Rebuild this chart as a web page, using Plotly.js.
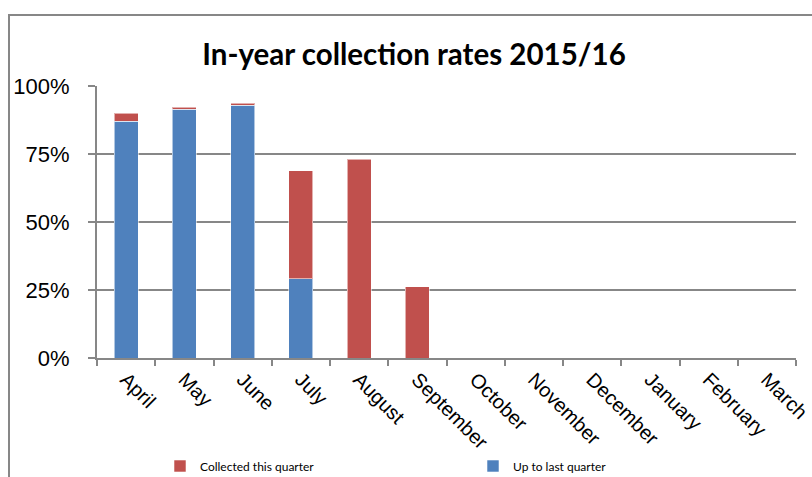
<!DOCTYPE html>
<html>
<head>
<meta charset="utf-8">
<script src="https://cdn.plot.ly/plotly-3.0.1.min.js"></script>
<style>
  html, body { margin: 0; padding: 0; background: #ffffff; }
  #chart { width: 812px; height: 477px; }
</style>
</head>
<body>
<div id="chart"></div>
<script>
const months = ["April", "May", "June", "July", "August", "September",
                "October", "November", "December", "January", "February", "March"];
const upToLastQuarter = [87.0, 91.4, 93.0, 29.1, 0, 0, null, null, null, null, null, null];
const collectedThisQuarter = [3.0, 0.7, 0.6, 39.7, 73.1, 26.2, null, null, null, null, null, null];
const yTicks = [0, 25, 50, 75, 100];

const blue = "#4F81BD";
const red = "#C0504D";

const traces = [
  {
    type: "bar",
    name: "Up to last quarter",
    x: months,
    y: upToLastQuarter,
    legend: "legend2",
    marker: { color: blue, line: { color: "rgba(255,255,255,0.55)", width: 1 } },
    hoverinfo: "skip"
  },
  {
    type: "bar",
    name: "Collected this quarter",
    x: months,
    y: collectedThisQuarter,
    legend: "legend",
    marker: { color: red, line: { color: "rgba(255,255,255,0.55)", width: 1 } },
    hoverinfo: "skip"
  }
];

const legendFont = { family: "Lato, 'Liberation Sans', sans-serif", size: 12, color: "#000000" };

const layout = {
  width: 812,
  height: 477,
  barmode: "stack",
  bargap: 0.59,
  paper_bgcolor: "#ffffff",
  plot_bgcolor: "#ffffff",
  margin: { l: 97, r: 16, t: 86, b: 119, pad: 0, autoexpand: false },
  showlegend: true,
  title: {
    text: "In-year collection rates 2015/16",
    font: { family: "Lato, 'Liberation Sans', sans-serif", size: 29.5, color: "#000000", weight: "bold" },
    x: 414 / 812, xanchor: "center",
    y: 1 - 55 / 477, yanchor: "middle"
  },
  xaxis: {
    type: "category",
    range: [-0.5, 11.5],
    automargin: false,
    tickangle: 45,
    tickson: "boundaries",
    ticks: "outside",
    ticklen: 6,
    tickwidth: 2,
    tickcolor: "#878787",
    showline: true,
    linecolor: "#878787",
    linewidth: 2,
    showgrid: false,
    tickfont: { family: "'Liberation Sans', Arial, sans-serif", size: 20, color: "#000000" },
    fixedrange: true
  },
  yaxis: {
    range: [0, 100],
    automargin: false,
    tickvals: yTicks,
    ticktext: yTicks.map(v => v + "%"),
    ticks: "outside",
    ticklen: 7,
    tickwidth: 2,
    tickcolor: "#878787",
    ticklabelstandoff: 14,
    showline: true,
    linecolor: "#878787",
    linewidth: 2,
    showgrid: true,
    gridcolor: "#878787",
    gridwidth: 2,
    zeroline: false,
    tickfont: { family: "'Liberation Sans', Arial, sans-serif", size: 22, color: "#000000" },
    fixedrange: true
  },
  legend: {
    orientation: "h",
    xref: "container", yref: "container",
    x: 160 / 812, xanchor: "left",
    y: 1 - 466 / 477, yanchor: "middle",
    font: legendFont,
    itemwidth: 30,
    bgcolor: "rgba(0,0,0,0)"
  },
  legend2: {
    orientation: "h",
    xref: "container", yref: "container",
    x: 473 / 812, xanchor: "left",
    y: 1 - 466 / 477, yanchor: "middle",
    font: legendFont,
    itemwidth: 30,
    bgcolor: "rgba(0,0,0,0)"
  },
  shapes: [
    {
      type: "rect",
      xref: "paper", yref: "paper",
      x0: (9 - 97) / 699, x1: 1.2,
      y0: -0.6, y1: (358 - 15) / 272,
      line: { color: "#878787", width: 2 },
      fillcolor: "rgba(0,0,0,0)",
      layer: "below"
    }
  ]
};

Plotly.newPlot("chart", traces, layout, { displayModeBar: false, staticPlot: true });
</script>
</body>
</html>
